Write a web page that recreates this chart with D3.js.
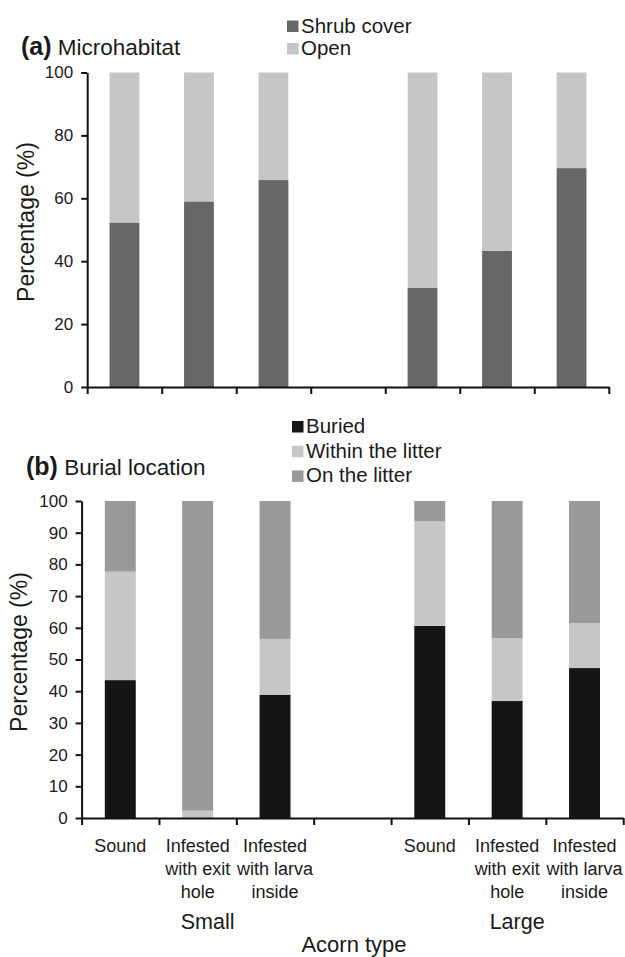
<!DOCTYPE html>
<html>
<head>
<meta charset="utf-8">
<script src="https://cdn.jsdelivr.net/npm/d3@7"></script>
<style>
  body { margin: 0; background: #fff; }
  svg text { font-family: "Liberation Sans", Arial, sans-serif; fill: #1a1a1a; }
  .axis path, .axis line { stroke: #111; stroke-width: 2px; }
</style>
</head>
<body>
<div id="chart"></div>
<script>
// categories (index 3 is the empty gap between Small and Large)
const categories = ["sSound", "sExit", "sLarva", "gap", "lSound", "lExit", "lLarva"];
const tickLines = [["Sound"], ["Infested", "with exit", "hole"], ["Infested", "with larva", "inside"], [],
                   ["Sound"], ["Infested", "with exit", "hole"], ["Infested", "with larva", "inside"]];
const groups = ["Small", "Large"];
const groupCenter = ["sExit", "lExit"];

// (a) microhabitat, %
const shrubCover = [52.3, 59.0, 65.8, null, 31.5, 43.3, 69.6];
const openArea   = [47.7, 41.0, 34.2, null, 68.5, 56.7, 30.4];

// (b) burial location, %
const buried   = [43.5, 0.0, 38.9, null, 60.6, 36.9, 47.3];
const within   = [34.2, 2.3, 17.6, null, 33.0, 19.8, 14.2];
const onLitter = [22.3, 97.7, 43.5, null, 6.4, 43.3, 38.5];

const ticksA = [0, 20, 40, 60, 80, 100];
const ticksB = [0, 10, 20, 30, 40, 50, 60, 70, 80, 90, 100];

const width = 625, height = 957;
const svg = d3.select("#chart").append("svg")
    .attr("width", width).attr("height", height);

function drawPanel(opt) {
    const rows = categories.map((c, i) => {
        const r = {cat: c};
        opt.series.forEach(s => { r[s.key] = s.values[i]; });
        return r;
    }).filter(r => r.cat !== "gap");

    const x = d3.scaleBand().domain(categories).range([opt.x0, opt.x1])
        .paddingInner(0.6).paddingOuter(0.3);
    const y = d3.scaleLinear().domain([0, 100]).range([opt.y0, opt.y1]);
    const xEdge = d3.scaleLinear().domain([0, categories.length]).range([opt.x0, opt.x1]);

    const stacked = d3.stack().keys(opt.series.map(s => s.key))(rows);
    const color = d3.scaleOrdinal().domain(opt.series.map(s => s.key)).range(opt.series.map(s => s.color));

    svg.append("g").selectAll("g")
        .data(stacked)
        .join("g")
        .attr("fill", d => color(d.key))
        .selectAll("rect")
        .data(d => d)
        .join("rect")
        .attr("x", d => x(d.data.cat))
        .attr("width", x.bandwidth())
        .attr("y", d => y(d[1]))
        .attr("height", d => y(d[0]) - y(d[1]));

    // y axis
    const yAxis = svg.append("g").attr("class", "axis")
        .attr("transform", "translate(" + opt.x0 + ",0)")
        .call(d3.axisLeft(y).tickValues(opt.ticks).tickSize(6).tickSizeOuter(0).tickPadding(8));
    yAxis.selectAll("text").style("font-size", "17px");

    // x axis: ticks on category edges, no labels
    svg.append("g").attr("class", "axis")
        .attr("transform", "translate(0," + opt.y0 + ")")
        .call(d3.axisBottom(xEdge).tickValues(d3.range(categories.length + 1))
            .tickFormat("").tickSize(7).tickSizeOuter(0));

    // y label
    svg.append("text")
        .attr("transform", "translate(" + opt.yLabelX + "," + opt.yLabelY + ") rotate(-90)")
        .attr("text-anchor", "middle")
        .style("font-size", "23px")
        .text("Percentage (%)");

    // title
    const t = svg.append("text").attr("x", opt.titleX).attr("y", opt.titleY);
    t.append("tspan").style("font-weight", "bold").style("font-size", "25px").text(opt.letter);
    t.append("tspan").style("font-size", "22.5px").text(" " + opt.title);

    // legend: last series on top, bottom entry at legY
    const leg = svg.append("g");
    opt.series.forEach((s, i) => {
        const by = opt.legY - i * opt.legStep;
        leg.append("rect").attr("x", opt.legX).attr("y", by - 12)
            .attr("width", 11.5).attr("height", 11.5).attr("fill", s.color);
        leg.append("text").attr("x", opt.legX + 14).attr("y", by)
            .style("font-size", "20.5px").text(s.label);
    });
    return {x: x, y: y};
}

// (a): legend lists Shrub cover above Open
drawPanel({
    x0: 87.2, x1: 608.8, y0: 387, y1: 72.5, ticks: ticksA,
    series: [
        {key: "shrub", label: "Shrub cover", values: shrubCover, color: "#676767"},
        {key: "open", label: "Open", values: openArea, color: "#c4c6c5"}
    ],
    yLabelX: 34, yLabelY: 222,
    letter: "(a)", title: "Microhabitat", titleX: 21, titleY: 55,
    legX: 287, legY: 32.5, legStep: -22.5
});

const pb = drawPanel({
    x0: 81.6, x1: 623.2, y0: 818, y1: 501, ticks: ticksB,
    series: [
        {key: "buried", label: "Buried", values: buried, color: "#151515"},
        {key: "within", label: "Within the litter", values: within, color: "#c5c7c6"},
        {key: "on", label: "On the litter", values: onLitter, color: "#999999"}
    ],
    yLabelX: 27, yLabelY: 652,
    letter: "(b)", title: "Burial location", titleX: 26, titleY: 475,
    legX: 292, legY: 433, legStep: -24.7
});

// category labels (multi-line)
const labels = svg.append("g");
categories.forEach((c, i) => {
    const cx = pb.x(c) + pb.x.bandwidth() / 2;
    const txt = labels.append("text").attr("text-anchor", "middle").style("font-size", "18px");
    tickLines[i].forEach((line, j) => {
        txt.append("tspan").attr("x", cx).attr("y", 851.5 + j * 23).text(line);
    });
});

// group labels
groups.forEach((g, i) => {
    svg.append("text")
        .attr("x", pb.x(groupCenter[i]) + pb.x.bandwidth() / 2 + 10)
        .attr("y", 928.5)
        .attr("text-anchor", "middle")
        .style("font-size", "21.5px")
        .text(g);
});

svg.append("text")
    .attr("x", 354).attr("y", 951.5)
    .attr("text-anchor", "middle")
    .style("font-size", "22px")
    .text("Acorn type");
</script>
</body>
</html>
